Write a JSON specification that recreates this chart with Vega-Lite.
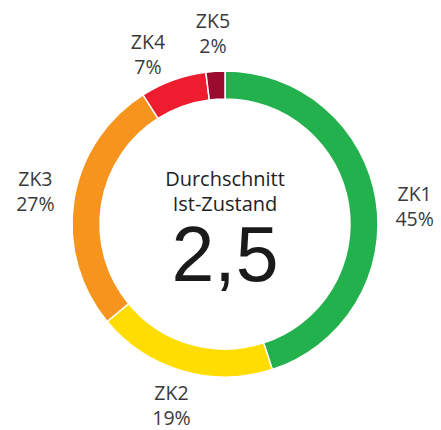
{
  "$schema": "https://vega.github.io/schema/vega-lite/v6.json",
  "width": 441,
  "height": 430,
  "autosize": {"type": "fit", "contains": "padding"},
  "padding": {"left": 9, "top": 17, "right": 0, "bottom": 0},
  "background": "white",
  "config": {"view": {"stroke": null}, "font": "Open Sans"},
  "data": {
    "values": [
      {"label": "ZK1", "value": 45, "text": "ZK1\n45%"},
      {"label": "ZK2", "value": 19, "text": "ZK2\n19%"},
      {"label": "ZK3", "value": 27, "text": "ZK3\n27%"},
      {"label": "ZK4", "value": 7, "text": "ZK4\n7%"},
      {"label": "ZK5", "value": 2, "text": "ZK5\n2%"}
    ]
  },
  "layer": [
    {
      "mark": {"type": "arc", "outerRadius": 153, "innerRadius": 125, "stroke": "white", "strokeWidth": 1.5},
      "encoding": {
        "theta": {"field": "value", "type": "quantitative", "stack": true},
        "color": {
          "field": "label",
          "type": "nominal",
          "scale": {
            "domain": ["ZK1", "ZK2", "ZK3", "ZK4", "ZK5"],
            "range": ["#23b14d", "#ffdd00", "#f7941d", "#ed1c2e", "#9b0a2f"]
          },
          "legend": null
        }
      }
    },
    {
      "mark": {"type": "text", "radius": 192, "fontSize": 19.5, "lineBreak": "\n", "lineHeight": 25, "align": "center", "baseline": "middle", "dy": -14, "color": "#3a3a3a"},
      "encoding": {
        "theta": {"field": "value", "type": "quantitative", "stack": true},
        "detail": {"field": "label", "type": "nominal"},
        "text": {"condition": {"test": "datum.label === 'ZK2' || datum.label === 'ZK3'", "field": "text"}, "value": ""}
      }
    },
    {
      "mark": {"type": "text", "radius": 192, "fontSize": 19.5, "lineBreak": "\n", "lineHeight": 25, "align": "center", "baseline": "middle", "dy": -10, "color": "#3a3a3a"},
      "encoding": {
        "theta": {"field": "value", "type": "quantitative", "stack": true},
        "detail": {"field": "label", "type": "nominal"},
        "text": {"condition": {"test": "datum.label === 'ZK5'", "field": "text"}, "value": ""}
      }
    },
    {
      "mark": {"type": "text", "radius": 192, "fontSize": 19.5, "lineBreak": "\n", "lineHeight": 25, "align": "center", "baseline": "middle", "dy": 1, "color": "#3a3a3a"},
      "encoding": {
        "theta": {"field": "value", "type": "quantitative", "stack": true},
        "detail": {"field": "label", "type": "nominal"},
        "text": {"condition": {"test": "datum.label === 'ZK1'", "field": "text"}, "value": ""}
      }
    },
    {
      "mark": {"type": "text", "radius": 192, "fontSize": 19.5, "lineBreak": "\n", "lineHeight": 25, "align": "center", "baseline": "middle", "dy": 0, "dx": -12, "color": "#3a3a3a"},
      "encoding": {
        "theta": {"field": "value", "type": "quantitative", "stack": true},
        "detail": {"field": "label", "type": "nominal"},
        "text": {"condition": {"test": "datum.label === 'ZK4'", "field": "text"}, "value": ""}
      }
    },
    {
      "data": {"values": [{"t": "Durchschnitt\nIst-Zustand"}]},
      "mark": {"type": "text", "fontSize": 20, "lineBreak": "\n", "lineHeight": 25, "align": "center", "baseline": "middle", "dy": -44, "color": "#222222"},
      "encoding": {"text": {"field": "t", "type": "nominal"}}
    },
    {
      "data": {"values": [{"t": "2,5"}]},
      "mark": {"type": "text", "fontSize": 77, "font": "Liberation Sans", "align": "center", "baseline": "middle", "dy": 34, "color": "#1a1a1a"},
      "encoding": {"text": {"field": "t", "type": "nominal"}}
    }
  ]
}
